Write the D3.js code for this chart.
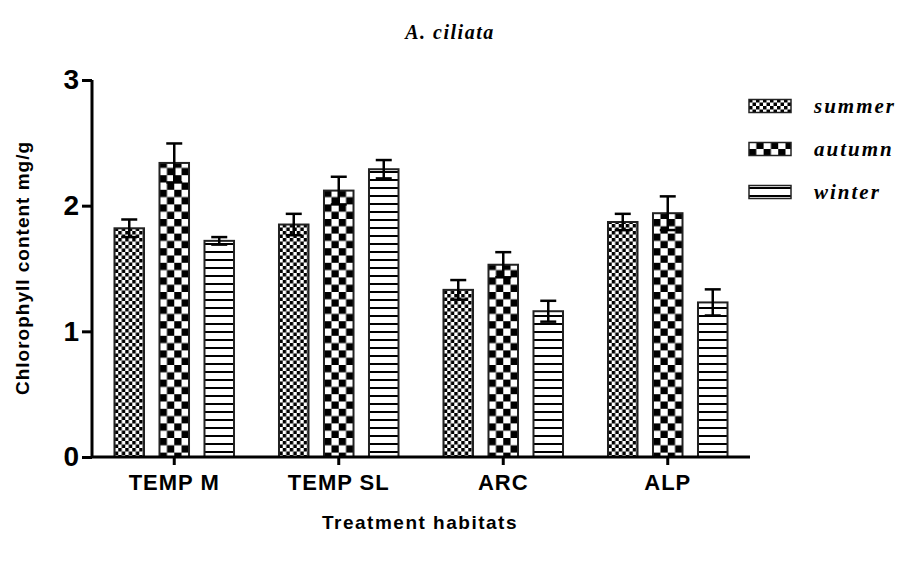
<!DOCTYPE html>
<html>
<head>
<meta charset="utf-8">
<script src="https://cdn.jsdelivr.net/npm/d3@7"></script>
<style>
  body { margin: 0; background: #fff; }
  svg { display: block; }
</style>
</head>
<body>
<svg id="chart" width="900" height="561"></svg>
<script>
const categories = ["TEMP M", "TEMP SL", "ARC", "ALP"];
const seriesNames = ["summer", "autumn", "winter"];
const summerValues = [1.82, 1.85, 1.33, 1.87];
const summerErrors = [0.07, 0.085, 0.078, 0.065];
const autumnValues = [2.34, 2.12, 1.53, 1.94];
const autumnErrors = [0.155, 0.11, 0.10, 0.134];
const winterValues = [1.72, 2.29, 1.16, 1.23];
const winterErrors = [0.03, 0.073, 0.083, 0.104];
const yTicks = [0, 1, 2, 3];

const valuesBySeries = { summer: summerValues, autumn: autumnValues, winter: winterValues };
const errorsBySeries = { summer: summerErrors, autumn: autumnErrors, winter: winterErrors };

const svg = d3.select("#chart");
const plotLeft = 92, plotRight = 750, plotTop = 80, plotBottom = 457;
const sans = "Liberation Sans, Arial, sans-serif";
const serif = "Liberation Serif, Times New Roman, serif";

// Patterns
const defs = svg.append("defs");
const pS = defs.append("pattern").attr("id", "pat-summer").attr("patternUnits", "userSpaceOnUse")
  .attr("width", 7).attr("height", 7);
pS.append("rect").attr("width", 7).attr("height", 7).attr("fill", "#fff");
pS.append("rect").attr("x", 0).attr("y", 0).attr("width", 3.5).attr("height", 3.5).attr("fill", "#000");
pS.append("rect").attr("x", 3.5).attr("y", 3.5).attr("width", 3.5).attr("height", 3.5).attr("fill", "#000");

const pA = defs.append("pattern").attr("id", "pat-autumn").attr("patternUnits", "userSpaceOnUse")
  .attr("width", 14.6).attr("height", 14.6);
pA.append("rect").attr("width", 14.6).attr("height", 14.6).attr("fill", "#fff");
pA.append("rect").attr("x", 0).attr("y", 0).attr("width", 7.3).attr("height", 7.3).attr("fill", "#000");
pA.append("rect").attr("x", 7.3).attr("y", 7.3).attr("width", 7.3).attr("height", 7.3).attr("fill", "#000");

const pW = defs.append("pattern").attr("id", "pat-winter").attr("patternUnits", "userSpaceOnUse")
  .attr("width", 8).attr("height", 8);
pW.append("rect").attr("width", 8).attr("height", 8).attr("fill", "#fff");
pW.append("rect").attr("x", 0).attr("y", 3).attr("width", 8).attr("height", 2).attr("fill", "#000");

const fills = { summer: "url(#pat-summer)", autumn: "url(#pat-autumn)", winter: "url(#pat-winter)" };

// Scales
const x0 = d3.scaleBand().domain(categories).range([plotLeft, plotRight]).padding(0);
const x1 = d3.scaleBand().domain(seriesNames).range([-67.5, 67.5]).paddingInner(0.344).paddingOuter(0.172);
const y = d3.scaleLinear().domain([0, 3]).range([plotBottom, plotTop]);

// Bars
const groups = svg.append("g").selectAll("g").data(categories).join("g")
  .attr("transform", d => `translate(${x0(d) + x0.bandwidth() / 2},0)`);

groups.each(function (cat, ci) {
  const g = d3.select(this);
  seriesNames.forEach(s => {
    const v = valuesBySeries[s][ci];
    const e = errorsBySeries[s][ci];
    const bx = x1(s), bw = x1.bandwidth();
    g.append("rect")
      .attr("x", bx).attr("y", y(v))
      .attr("width", bw).attr("height", y(0) - y(v))
      .attr("fill", fills[s])
      .attr("stroke", "#222").attr("stroke-width", 2);
    const cx = bx + bw / 2;
    const eg = g.append("g").attr("stroke", "#000").attr("stroke-width", 2.5);
    eg.append("line").attr("x1", cx).attr("x2", cx).attr("y1", y(v + e)).attr("y2", y(v - e));
    eg.append("line").attr("x1", cx - 8).attr("x2", cx + 8).attr("y1", y(v + e)).attr("y2", y(v + e));
    eg.append("line").attr("x1", cx - 8).attr("x2", cx + 8).attr("y1", y(v - e)).attr("y2", y(v - e));
  });
});

// Axes
const yAxis = svg.append("g").attr("transform", `translate(${plotLeft},0)`)
  .call(d3.axisLeft(y).tickValues(yTicks).tickFormat(d3.format("d")).tickSize(10).tickPadding(3));
yAxis.select(".domain").attr("stroke", "#000").attr("stroke-width", 3).attr("d", `M0,${plotTop}V${plotBottom}`);
yAxis.selectAll(".tick line").attr("stroke", "#000").attr("stroke-width", 3);
yAxis.selectAll(".tick text").attr("font-family", sans)
  .attr("font-weight", "bold").attr("font-size", 28).attr("fill", "#000");

const xAxis = svg.append("g").attr("transform", `translate(0,${plotBottom})`)
  .call(d3.axisBottom(x0).tickSize(8).tickPadding(9));
xAxis.select(".domain").attr("stroke", "#000").attr("stroke-width", 3).attr("d", `M${plotLeft},0H${plotRight}`);
xAxis.selectAll(".tick line").attr("stroke", "#000").attr("stroke-width", 3);
xAxis.selectAll(".tick text").attr("font-family", sans)
  .attr("font-weight", "bold").attr("font-size", 22).attr("letter-spacing", 1).attr("fill", "#000");

// Titles
svg.append("text").attr("x", 450).attr("y", 39).attr("text-anchor", "middle")
  .attr("font-family", serif).attr("font-weight", "bold")
  .attr("font-style", "italic").attr("font-size", 20).attr("letter-spacing", 1.5).text("A. ciliata");

svg.append("text").attr("transform", "translate(29,268) rotate(-90)").attr("text-anchor", "middle")
  .attr("font-family", sans).attr("font-weight", "bold")
  .attr("font-size", 19).attr("letter-spacing", 1).text("Chlorophyll content mg/g");

svg.append("text").attr("x", 420).attr("y", 529).attr("text-anchor", "middle")
  .attr("font-family", sans).attr("font-weight", "bold")
  .attr("font-size", 19).attr("letter-spacing", 1.5).text("Treatment habitats");

// Legend
const legendY = d3.scalePoint().domain(seriesNames).range([106, 192]);
const lg = svg.append("g").selectAll("g").data(seriesNames).join("g")
  .attr("transform", d => `translate(749,${legendY(d)})`);
lg.append("rect").attr("x", 0).attr("y", -6.5).attr("width", 42).attr("height", 13)
  .attr("fill", d => fills[d]).attr("stroke", "#222").attr("stroke-width", 1.5);
lg.append("text").attr("x", 65).attr("y", 7)
  .attr("font-family", serif).attr("font-weight", "bold")
  .attr("font-style", "italic").attr("font-size", 21).attr("letter-spacing", 2).text(d => d);
</script>
</body>
</html>
